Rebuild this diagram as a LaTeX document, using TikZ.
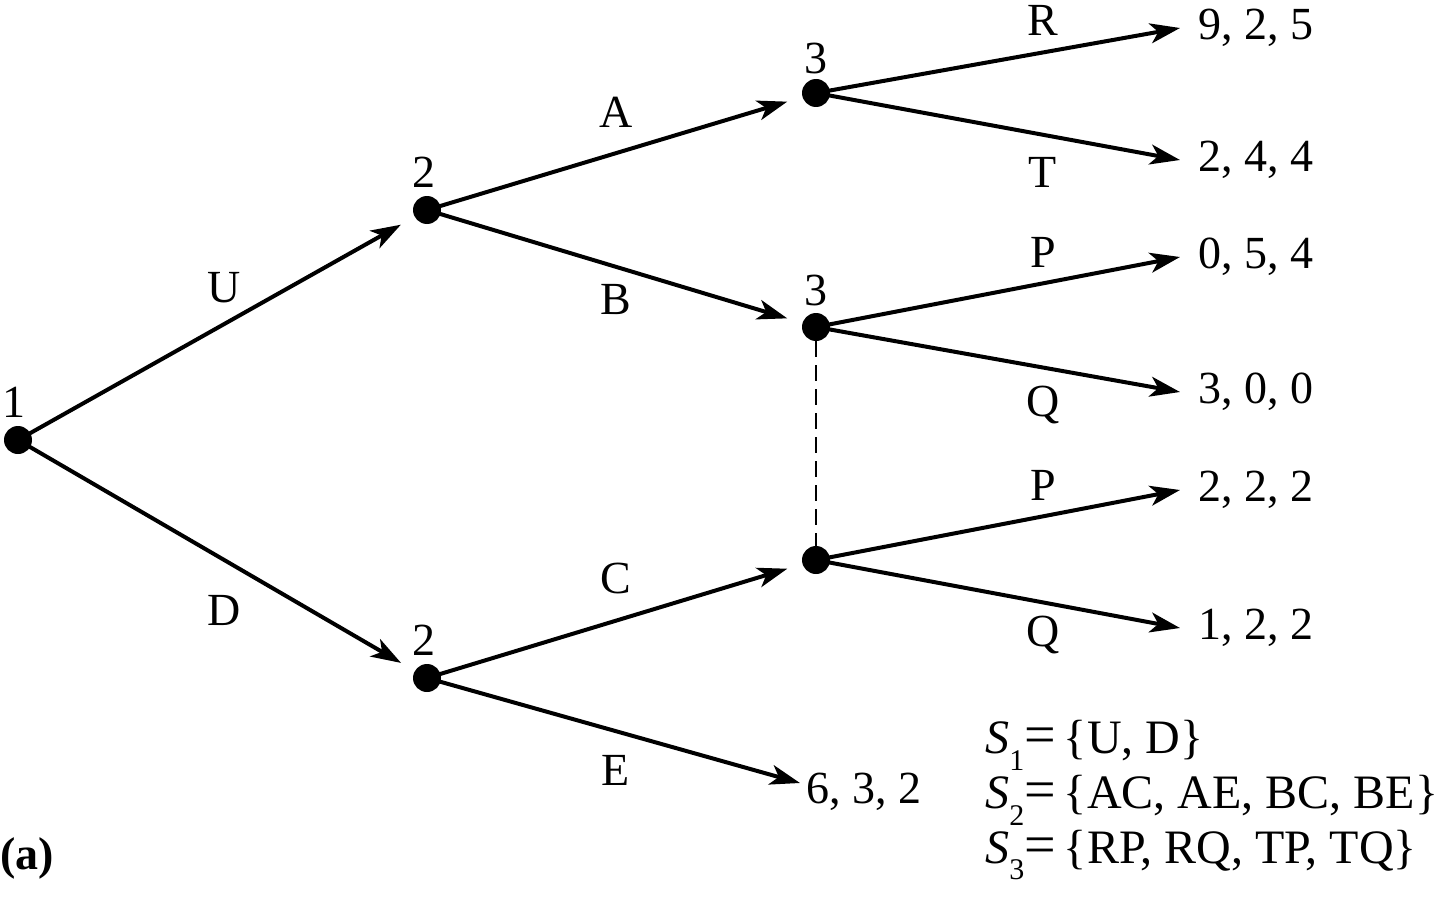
\documentclass[tikz,border=0pt]{standalone}
\usepackage{fontspec}
\setmainfont{Liberation Serif}
\usetikzlibrary{arrows.meta}
\begin{document}
\begin{tikzpicture}[x=0.5pt,y=-0.5pt,
  dot/.style={circle,fill=black,inner sep=0pt,minimum size=14pt},
  txt/.style={font=\fontsize{23}{27}\selectfont,inner sep=0pt},
  edge/.style={line width=2pt,-{Stealth[length=15pt,width=10pt,inset=4pt]}},
  inner/.style={edge,shorten >=15pt},
  pay/.style={txt,anchor=west}]
\useasboundingbox (0,0) rectangle (1440,904);
% decision nodes
\node[dot] (n1) at (18,440) {};
\node[dot] (n2u) at (427,210) {};
\node[dot] (n2d) at (427,678) {};
\node[dot] (n3a) at (816,93) {};
\node[dot] (n3b) at (816,327) {};
\node[dot] (n3c) at (816,560) {};
% player labels
\node[txt] (l1) at (14,402) {1};
\node[txt] (l2u) at (424,172) {2};
\node[txt] (l2d) at (424,640) {2};
\node[txt] (l3a) at (816,58) {3};
\node[txt] (l3b) at (816,290) {3};
% payoffs
\node[pay] (pR) at (1198,28) {9, 2, 5};
\node[pay] (pT) at (1198,160) {2, 4, 4};
\node[pay] (pP1) at (1198,257) {0, 5, 4};
\node[pay] (pQ1) at (1198,392) {3, 0, 0};
\node[pay] (pP2) at (1198,490) {2, 2, 2};
\node[pay] (pQ2) at (1198,628) {1, 2, 2};
\node[pay] (pE) at (806,792) {6, 3, 2};
% coordinates for arrow tips
\coordinate (tR) at (1180,28);
\coordinate (tT) at (1180,160);
\coordinate (tP1) at (1180,257);
\coordinate (tQ1) at (1180,392);
\coordinate (tP2) at (1180,490);
\coordinate (tQ2) at (1180,628);
\coordinate (tE) at (800,783);
% edges
\draw[inner] (n1.center) -- (n2u.center);
\draw[inner] (n1.center) -- (n2d.center);
\draw[inner] (n2u.center) -- (n3a.center);
\draw[inner] (n2u.center) -- (n3b.center);
\draw[inner] (n2d.center) -- (n3c.center);
\draw[edge] (n2d.center) -- (tE);
\draw[edge] (n3a.center) -- (tR);
\draw[edge] (n3a.center) -- (tT);
\draw[edge] (n3b.center) -- (tP1);
\draw[edge] (n3b.center) -- (tQ1);
\draw[edge] (n3c.center) -- (tP2);
\draw[edge] (n3c.center) -- (tQ2);
% information set
\draw[line width=1.3pt,dash pattern=on 8pt off 4pt] (n3b) -- (n3c);
% edge labels
\node[txt] (eU) at (224,288) {U};
\node[txt] (eD) at (224,610) {D};
\node[txt] (eA) at (616,112) {A};
\node[txt] (eB) at (616,300) {B};
\node[txt] (eC) at (616,578) {C};
\node[txt] (eE) at (616,770) {E};
\node[txt] (eR) at (1043,20) {R};
\node[txt] (eT) at (1043,172) {T};
\node[txt] (eP1) at (1043,252) {P};
\node[txt] (eQ1) at (1043,405) {Q};
\node[txt] (eP2) at (1043,485) {P};
\node[txt] (eQ2) at (1043,635) {Q};
% caption
\node[txt,anchor=west] (cap) at (0,858) {\textbf{(a)}};
% strategy sets
\tikzset{sset/.style={anchor=west,inner sep=0pt,font=\fontsize{24}{28}\selectfont}}
\node[sset] (s1) at (985,745) {\textit{S}\raisebox{-0.35em}{\fontsize{15}{15}\selectfont 1}{\fontsize{28}{28}\selectfont=}\,\{U, D\}};
\node[sset] (s2) at (985,800) {\textit{S}\raisebox{-0.35em}{\fontsize{15}{15}\selectfont 2}{\fontsize{28}{28}\selectfont=}\,\{AC, AE, BC, BE\}};
\node[sset] (s3) at (985,855) {\textit{S}\raisebox{-0.35em}{\fontsize{15}{15}\selectfont 3}{\fontsize{28}{28}\selectfont=}\,\{RP, RQ, TP, TQ\}};
\end{tikzpicture}
\end{document}
